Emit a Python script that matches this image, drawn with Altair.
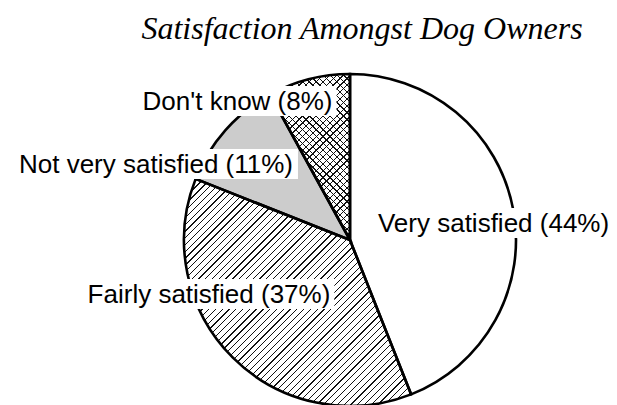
import math
import altair as alt
import pandas as pd

# ---------------- data ----------------
categories = ["Very satisfied", "Fairly satisfied", "Not very satisfied", "Don't know"]
percent = [44, 37, 11, 8]
labels = [f"{c} ({p}%)" for c, p in zip(categories, percent)]
title_text = "Satisfaction Amongst Dog Owners"

# ---------------- styles / layout ----------------
base_fill = ["white", "white", "#cccccc", "white"]
hatch_dirs = {"Fairly satisfied": ["/"], "Don't know": ["/", "\\"]}
R = 166                       # pie radius (px)
VIEW_W, VIEW_H = 601, 347
PAD_TOP = 50
CX, CY = 342, 182             # pie centre inside the view (px)
FONT_SIZE = 26
# label nudges (px) from the point at 0.6 R on each slice's mid angle
label_nudge = {
    "Very satisfied": (45.7, 10.7),
    "Fairly satisfied": (-70.6, -7.4),
    "Not very satisfied": (-119.3, -1.1),
    "Don't know": (-87.7, -33.5),
}

# Helvetica / Arial advance widths (1/1000 em) for label width estimate
HELV = {"V": 667, "e": 556, "r": 333, "y": 500, " ": 278, "s": 500, "a": 556,
        "t": 278, "i": 222, "f": 278, "d": 556, "(": 333, ")": 333, "%": 889,
        "F": 611, "l": 222, "N": 722, "o": 556, "v": 500, "D": 722, "n": 556,
        "'": 191, "k": 500, "w": 722}


def text_width(s):
    return sum(HELV.get(c, 556) if not c.isdigit() else 556 for c in s) * FONT_SIZE / 1000


df = pd.DataFrame({"cat": categories, "value": percent, "label": labels,
                   "idx": list(range(len(categories)))})

xs = alt.Scale(domain=[-CX, VIEW_W - CX], nice=False, zero=False)
ys = alt.Scale(domain=[-CY, VIEW_H - CY], nice=False, zero=False, reverse=True)
ts = alt.Scale(domain=[0, 1], range=[0, 2 * math.pi])

base = (
    alt.Chart(df)
    .transform_joinaggregate(total="sum(value)")
    .transform_window(cum="sum(value)", sort=[alt.SortField("idx")], frame=[None, 0])
    .transform_calculate(
        start="(datum.cum - datum.value) / datum.total",
        end="datum.cum / datum.total",
        mid="(datum.cum - datum.value / 2) / datum.total",
    )
)

centre = dict(
    x=alt.X(datum=0, type="quantitative", scale=xs, axis=None),
    y=alt.Y(datum=0, type="quantitative", scale=ys, axis=None),
    theta=alt.Theta("start:Q", scale=ts),
    theta2=alt.Theta2("end:Q"),
)

fills = base.mark_arc(radius=R, strokeWidth=0).encode(
    color=alt.Color("cat:N", scale=alt.Scale(domain=categories, range=base_fill), legend=None),
    **centre,
)

# cumulative fractions (only to size hatch gradients to each slice's bbox)
cum = 0
frac = {}
tot = sum(percent)
for c, p in zip(categories, percent):
    frac[c] = (cum / tot, (cum + p) / tot)
    cum += p


def sector_bbox(f0, f1):
    a0, a1 = f0 * 2 * math.pi, f1 * 2 * math.pi
    pts = [(0.0, 0.0), (R * math.sin(a0), -R * math.cos(a0)), (R * math.sin(a1), -R * math.cos(a1))]
    for k in range(5):
        a = k * math.pi / 2
        if a0 < a < a1:
            pts.append((R * math.sin(a), -R * math.cos(a)))
    xs_ = [p[0] for p in pts]
    ys_ = [p[1] for p in pts]
    return max(xs_) - min(xs_), max(ys_) - min(ys_)


def hatch_gradient(W, H, direction, spacing=4.8, thick=0.9, color="#111111"):
    k = (W + H) / (W * W + H * H)
    span = (W + H) / math.sqrt(2)
    n = max(1, round(span / spacing))
    f = thick / span
    gap = "rgba(0,0,0,0)"
    stops = []
    for i in range(n):
        o0 = round(i / n, 6)
        o1 = round((i + 1) / n - f, 6)
        o2 = round((i + 1) / n, 6)
        stops += [{"offset": o0, "color": gap}, {"offset": o1, "color": gap},
                  {"offset": o1, "color": color}, {"offset": o2, "color": color}]
    if direction == "/":
        return {"gradient": "linear", "x1": 0, "y1": 0, "x2": k * W, "y2": k * H, "stops": stops}
    return {"gradient": "linear", "x1": 0, "y1": 1, "x2": k * W, "y2": 1 - k * H, "stops": stops}


hatch_layers = []
for cat, dirs in hatch_dirs.items():
    W, H = sector_bbox(*frac[cat])
    for d in dirs:
        hatch_layers.append(
            base.transform_filter(alt.datum.cat == cat)
            .mark_arc(radius=R, strokeWidth=0, fill=hatch_gradient(W, H, d))
            .encode(**centre)
        )

outline = base.mark_arc(radius=R, filled=False, stroke="black", strokeWidth=2.6).encode(**centre)

label_layers = []
for cat, lab in zip(categories, labels):
    ndx, ndy = label_nudge[cat]
    w = text_width(lab)
    lay = (
        base.transform_filter(alt.datum.cat == cat)
        .transform_calculate(
            lx=f"{0.6 * R} * sin(2 * PI * datum.mid) + ({ndx})",
            ly=f"-{0.6 * R} * cos(2 * PI * datum.mid) + ({ndy})",
        )
        .transform_calculate(
            bx1=f"datum.lx - {w / 2 + 4}",
            bx2=f"datum.lx + {w / 2 + 4}",
            by1="datum.ly - 24",
            by2="datum.ly + 6",
        )
    )
    box = lay.mark_rect(color="white").encode(
        x=alt.X("bx1:Q", scale=xs, axis=None), x2="bx2:Q",
        y=alt.Y("by1:Q", scale=ys, axis=None), y2="by2:Q",
    )
    txt = lay.mark_text(font="Liberation Sans", fontSize=FONT_SIZE, align="center",
                        baseline="alphabetic", color="black").encode(
        x=alt.X("lx:Q", scale=xs, axis=None),
        y=alt.Y("ly:Q", scale=ys, axis=None),
        text="label:N",
    )
    label_layers += [box, txt]

chart = (
    alt.layer(fills, *hatch_layers, outline, *label_layers)
    .properties(
        width=VIEW_W, height=VIEW_H,
        padding={"left": 0, "right": 0, "top": PAD_TOP, "bottom": 0},
        autosize=alt.AutoSizeParams(type="none"),
        title=alt.TitleParams(
            title_text, font="Liberation Serif", fontSize=32, fontStyle="italic",
            fontWeight="normal", color="black", anchor="middle", dx=53.5, dy=33, offset=20,
            baseline="alphabetic",
        ),
    )
    .configure_view(stroke=None)
)

chart.save("out.html", embed_options={"renderer": "svg", "actions": False})
